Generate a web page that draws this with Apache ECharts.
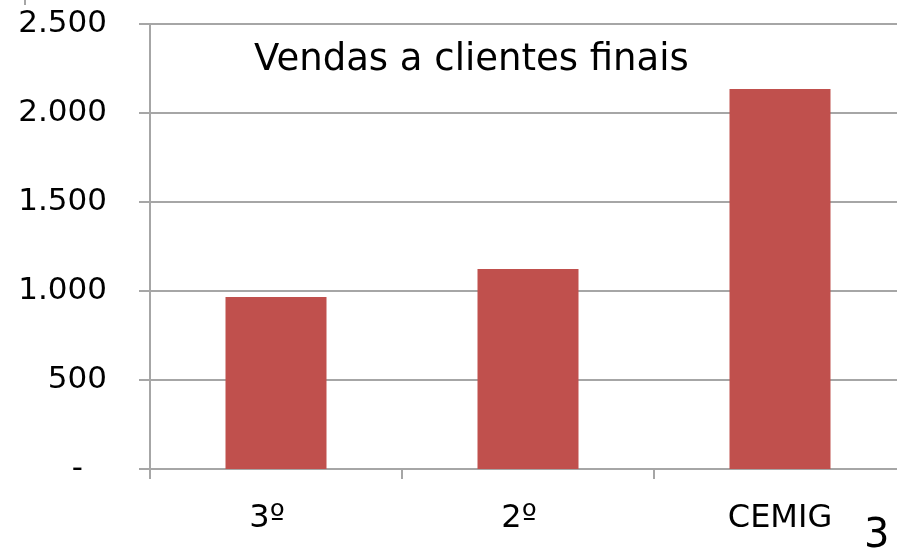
<!DOCTYPE html>
<html>
<head>
<meta charset="utf-8">
<script src="https://cdn.jsdelivr.net/npm/echarts@6/dist/echarts.min.js"></script>
<style>
	html, body { margin: 0; padding: 0; background: #fff; overflow: hidden; }
	#chart { width: 906px; height: 555px; }
</style>
</head>
<body>
<div id="chart"></div>
<script>
	// dados
	var categorias = ['3º', '2º', 'CEMIG'];
	var vendas = [966, 1124, 2135];
	var yTicks = [0, 500, 1000, 1500, 2000, 2500];

	var fonte = 'DejaVu Sans';
	var cinza = '#a6a6a6';

	// 0 aparece como "-" (formato contábil), milhares com ponto
	function formatarNumero(v) {
		if (v === 0) {
			return '{traco|-}';
		}
		return String(v).replace(/\B(?=(\d{3})+(?!\d))/g, '.');
	}

	// rótulos ordinais ficam um pouco à esquerda no original
	function formatarCategoria(v) {
		if (v.indexOf('º') !== -1) {
			return '{ord|' + v + '}';
		}
		return v;
	}

	var myChart = echarts.init(document.getElementById('chart'), null, { renderer: 'canvas' });

	myChart.setOption({
		animation: false,
		backgroundColor: '#ffffff',
		title: {
			text: 'Vendas a clientes finais',
			left: 249,
			top: 37,
			textStyle: {
				fontFamily: fonte,
				fontSize: 37,
				fontWeight: 'normal',
				color: '#000'
			}
		},
		graphic: [{
			type: 'text',
			left: 864,
			top: 517,
			style: {
				text: '3',
				font: '40px "DejaVu Sans"',
				fill: '#000'
			}
		}, {
			type: 'line',
			shape: { x1: 25, y1: 0, x2: 25, y2: 5 },
			style: { stroke: cinza, lineWidth: 2 }
		}],
		grid: {
			left: 150,
			top: 24,
			right: 0,
			bottom: 86
		},
		xAxis: {
			type: 'category',
			data: categorias,
			axisLine: { lineStyle: { color: cinza, width: 2 } },
			axisTick: { show: true, length: 10, lineStyle: { color: cinza, width: 2 } },
			axisLabel: {
				margin: 34,
				fontFamily: fonte,
				fontSize: 32,
				color: '#000',
				formatter: formatarCategoria,
				rich: {
					ord: {
						fontFamily: fonte,
						fontSize: 32,
						color: '#000',
						padding: [0, 18, 0, 0]
					}
				}
			}
		},
		yAxis: {
			type: 'value',
			min: yTicks[0],
			max: yTicks[yTicks.length - 1],
			interval: 500,
			axisLine: { show: true, lineStyle: { color: cinza, width: 2 } },
			axisTick: { show: true, length: 11, lineStyle: { color: cinza, width: 2 } },
			splitLine: { show: true, lineStyle: { color: cinza, width: 2 } },
			axisLabel: {
				margin: 43,
				fontFamily: fonte,
				fontSize: 31,
				color: '#000',
				formatter: formatarNumero,
				rich: {
					traco: {
						fontFamily: fonte,
						fontSize: 31,
						color: '#000',
						padding: [0, 24, 0, 0]
					}
				}
			}
		},
		series: [{
			type: 'bar',
			data: vendas,
			barWidth: 101,
			itemStyle: { color: '#c0504d' }
		}]
	});
</script>
</body>
</html>
